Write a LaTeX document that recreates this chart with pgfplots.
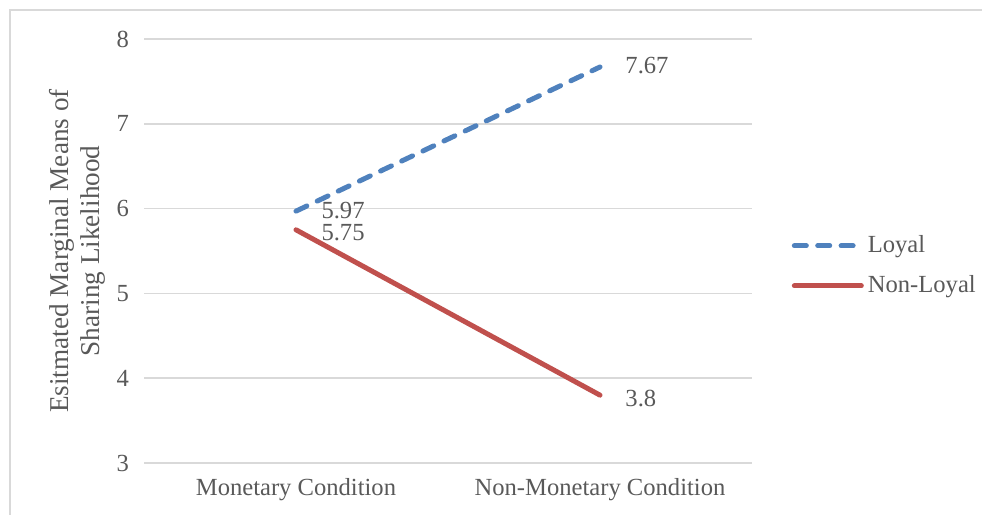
\documentclass[border=0pt]{standalone}
\usepackage{pgfplots}
\pgfplotsset{compat=1.18}
\usepackage{fontspec}
\setmainfont{Liberation Serif}
\definecolor{loyal}{HTML}{4F81BD}
\definecolor{nonloyal}{HTML}{C0504D}
\definecolor{txt}{HTML}{595959}
\definecolor{gridc}{HTML}{D9D9D9}

\begin{document}
\begin{tikzpicture}
\useasboundingbox (0,0) rectangle (491pt,257.5pt);
\draw[gridc, line width=0.8pt] (5pt,-5pt) -- (5pt,252.5pt) -- (500pt,252.5pt);
\begin{axis}[
	at={(72pt,26pt)}, anchor=south west,
	scale only axis, width=304pt, height=212pt,
	xmin=-0.5, xmax=1.5, ymin=3, ymax=8,
	xtick={0,1}, xticklabels={Monetary Condition, Non-Monetary Condition},
	ytick={3,4,5,6,7,8},
	ymajorgrids, grid style={gridc, line width=0.75pt},
	axis line style={draw=none}, major tick length=0pt,
	font=\fontsize{12.3}{14}\selectfont, text=txt,
	/pgf/number format/assume math mode=true,
	yticklabel style={xshift=-4pt},
	xticklabel style={yshift=-4pt},
	ylabel={Esitmated Marginal Means of\\Sharing Likelihood},
	ylabel style={align=center, text=txt, yshift=-1pt,
		font=\fontsize{13.6}{15.5}\selectfont},
	legend style={at={(1.055,0.465)}, anchor=west, draw=none, fill=none,
		font=\fontsize{12.3}{14}\selectfont, text=txt, row sep=6pt,
		cells={anchor=west}},
	legend image code/.code={\draw[#1] (0pt,0pt) -- (33.5pt,0pt);},
	nodes near coords, point meta=explicit symbolic,
	every node near coord/.style={anchor=west, inner sep=0.5pt, xshift=11pt,
		text=txt, font=\fontsize{12.3}{14}\selectfont},
	]
	\addplot[loyal, line width=2.5pt, line cap=round, dash pattern=on 6pt off 5.7pt,
		nodes near coords style={yshift=0.5pt}]
		coordinates {(0,5.97) [5.97] (1,7.67) [7.67]};
	\addlegendentry{Loyal}
	\addplot[nonloyal, line width=2.5pt, line cap=round,
		nodes near coords style={yshift=-1.5pt}]
		coordinates {(0,5.75) [5.75] (1,3.8) [3.8]};
	\addlegendentry{Non-Loyal}
\end{axis}
\end{tikzpicture}
\end{document}
